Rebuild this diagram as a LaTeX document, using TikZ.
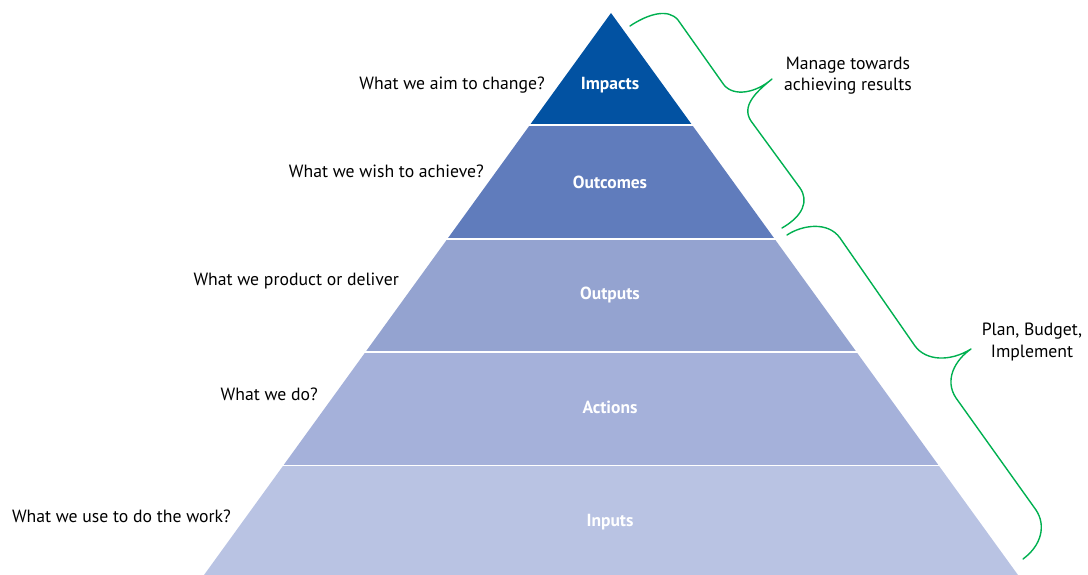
\documentclass[tikz,border=0pt]{standalone}
\usepackage{fontspec}
\setmainfont{PT Sans}
\definecolor{cImpacts}{RGB}{2,82,162}
\definecolor{cOutcomes}{RGB}{96,124,188}
\definecolor{cOutputs}{RGB}{148,163,208}
\definecolor{cActions}{RGB}{165,177,218}
\definecolor{cInputs}{RGB}{185,195,227}
\definecolor{bracegreen}{RGB}{0,176,80}
\begin{document}
\begin{tikzpicture}[x=1pt,y=-1pt,
  lbl/.style={font=\fontsize{17.7}{21}\selectfont, text=black, anchor=east, inner sep=0pt},
  bandlbl/.style={font=\bfseries\fontsize{17.5}{21}\selectfont, text=white, inner sep=0pt},
  note/.style={font=\fontsize{17.7}{21.5}\selectfont, text=black, align=center, inner sep=0pt},
  bracepath/.style={draw=bracegreen, line width=1.4pt, line cap=round, line join=round}]
\useasboundingbox (0,0) rectangle (1088,575);
\begin{scope}
  \clip (611,13) -- (1018,575) -- (204,575) -- cycle;
  \fill[cImpacts]  (0,0)     rectangle (1088,124.3);
  \fill[cOutcomes] (0,125.8) rectangle (1088,238.3);
  \fill[cOutputs]  (0,239.8) rectangle (1088,351.3);
  \fill[cActions]  (0,352.8) rectangle (1088,464.8);
  \fill[cInputs]   (0,466.3) rectangle (1088,576);
\end{scope}
\node[bandlbl] (impacts)  at (610,85)  {Impacts};
\node[bandlbl] (outcomes) at (610,182) {Outcomes};
\node[bandlbl] (outputs)  at (610,295) {Outputs};
\node[bandlbl] (actions)  at (610,407) {Actions};
\node[bandlbl] (inputs)   at (610,522) {Inputs};
\node[lbl] (q1) at (545,85)  {What we aim to change?};
\node[lbl] (q2) at (484,171) {What we wish to achieve?};
\node[lbl] (q3) at (399,281) {What we product or deliver};
\node[lbl] (q4) at (318,394) {What we do?};
\node[lbl] (q5) at (231,516) {What we use to do the work?};
\node[note] (manage) at (848,75.5) {Manage towards\\achieving results};
\node[note] (plan) at (1032,342) {Plan, Budget,\\Implement};
% braces
\draw[bracepath] (630,26) .. controls (648,14) and (668,8) .. (678,20)
  -- (724,85) .. controls (734,97) and (756,93) .. (772,79)
  .. controls (756,92) and (741,106) .. (751,121)
  -- (800,188) .. controls (809,201) and (803,216) .. (782,228);
\draw[bracepath] (787,235) .. controls (802,225) and (828,221) .. (840,238)
  -- (915,346) .. controls (926,361) and (950,362) .. (971,349)
  .. controls (955,360) and (944,380) .. (956,398)
  -- (1036,510) .. controls (1046,525) and (1042,545) .. (1023,559);
\end{tikzpicture}
\end{document}
